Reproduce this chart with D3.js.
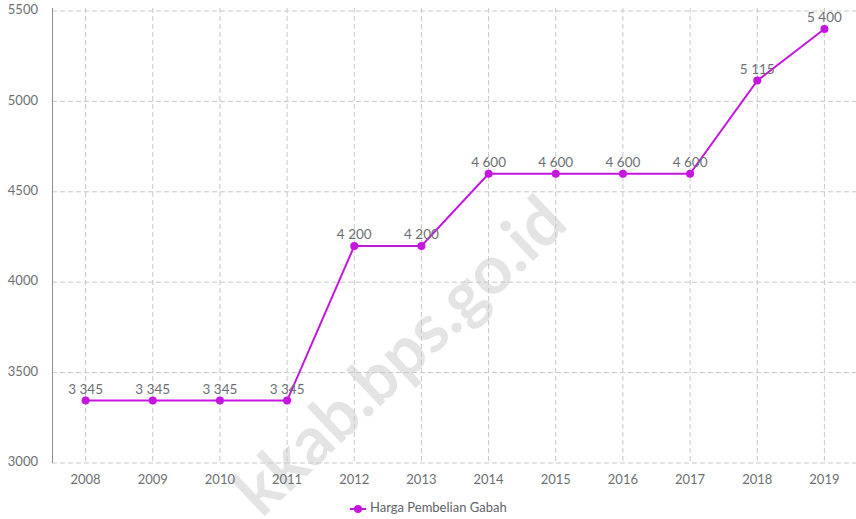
<!DOCTYPE html>
<html>
<head>
<meta charset="utf-8">
<script src="https://cdn.jsdelivr.net/npm/d3@7"></script>
<style>
  body { margin: 0; background: #fff; }
  svg { display: block; font-family: Lato, "Open Sans", sans-serif; }
</style>
</head>
<body>
<script>
// data
const years = ["2008","2009","2010","2011","2012","2013","2014","2015","2016","2017","2018","2019"];
const harga = [3345, 3345, 3345, 3345, 4200, 4200, 4600, 4600, 4600, 4600, 5115, 5400];
const yTicks = [3000, 3500, 4000, 4500, 5000, 5500];
const seriesName = "Harga Pembelian Gabah";

const width = 856, height = 519;
const color = "#c516e0";

const svg = d3.select("body").append("svg")
  .attr("width", width)
  .attr("height", height);

const x = d3.scaleBand().domain(years).range([52, 858]);
const y = d3.scaleLinear().domain([3000, 5500]).range([463, 11]);
const cx = d => x(d) + x.bandwidth() / 2;

// watermark
svg.append("text")
  .attr("transform", "translate(404,360) rotate(-43.5)")
  .attr("text-anchor", "middle")
  .attr("dominant-baseline", "middle")
  .style("font-size", "67px")
  .style("font-weight", "bold")
  .style("fill", "#e4e4e4")
  .text("kkab.bps.go.id");

// horizontal grid
svg.append("g")
  .selectAll("line")
  .data(yTicks)
  .enter().append("line")
  .attr("x1", 52).attr("x2", width)
  .attr("y1", d => y(d)).attr("y2", d => y(d))
  .style("stroke", "#c8c8c8")
  .style("stroke-dasharray", "5,3");

// vertical grid
svg.append("g")
  .selectAll("line")
  .data(years)
  .enter().append("line")
  .attr("x1", d => cx(d)).attr("x2", d => cx(d))
  .attr("y1", 8).attr("y2", 463)
  .style("stroke", "#c8c8c8")
  .style("stroke-dasharray", "5,3");

// left axis line
svg.append("line")
  .attr("x1", 52.5).attr("x2", 52.5)
  .attr("y1", 8).attr("y2", 463)
  .style("stroke", "#8a8f93");

// y tick labels
svg.append("g")
  .selectAll("text")
  .data(yTicks)
  .enter().append("text")
  .attr("x", 38).attr("y", d => y(d))
  .attr("text-anchor", "end")
  .attr("dominant-baseline", "middle")
  .style("font-size", "13px")
  .style("fill", "#6b6f73")
  .text(d => d);

// x tick labels
svg.append("g")
  .selectAll("text")
  .data(years)
  .enter().append("text")
  .attr("x", d => cx(d)).attr("y", 484)
  .attr("text-anchor", "middle")
  .style("font-size", "13px")
  .style("fill", "#6b6f73")
  .text(d => d);

const pts = years.map((yr, i) => ({ yr, v: harga[i] }));

// line
svg.append("path")
  .datum(pts)
  .attr("d", d3.line().x(d => cx(d.yr)).y(d => y(d.v)))
  .style("fill", "none")
  .style("stroke", color)
  .style("stroke-width", 2);

svg.append("g")
  .selectAll("circle")
  .data(pts)
  .enter().append("circle")
  .attr("cx", d => cx(d.yr)).attr("cy", d => y(d.v))
  .attr("r", 4)
  .style("fill", color);

// data labels
const fmt = v => d3.format(",")(v).replace(",", " ");
svg.append("g")
  .selectAll("text")
  .data(pts)
  .enter().append("text")
  .attr("x", d => cx(d.yr)).attr("y", d => y(d.v) - 7)
  .attr("text-anchor", "middle")
  .style("font-size", "13.5px")
  .style("fill", "#6b6f73")
  .text(d => fmt(d.v));

// legend
const lg = svg.append("g").attr("transform", "translate(350,509)");
lg.append("line").attr("x1", 0).attr("x2", 16).attr("y1", 0).attr("y2", 0)
  .style("stroke", color).style("stroke-width", 2);
lg.append("circle").attr("cx", 8).attr("cy", 0).attr("r", 4).style("fill", color);
lg.append("text").attr("x", 20).attr("y", 0)
  .attr("dominant-baseline", "middle")
  .style("font-size", "13px")
  .style("fill", "#5f6368")
  .text(seriesName);
</script>
</body>
</html>
